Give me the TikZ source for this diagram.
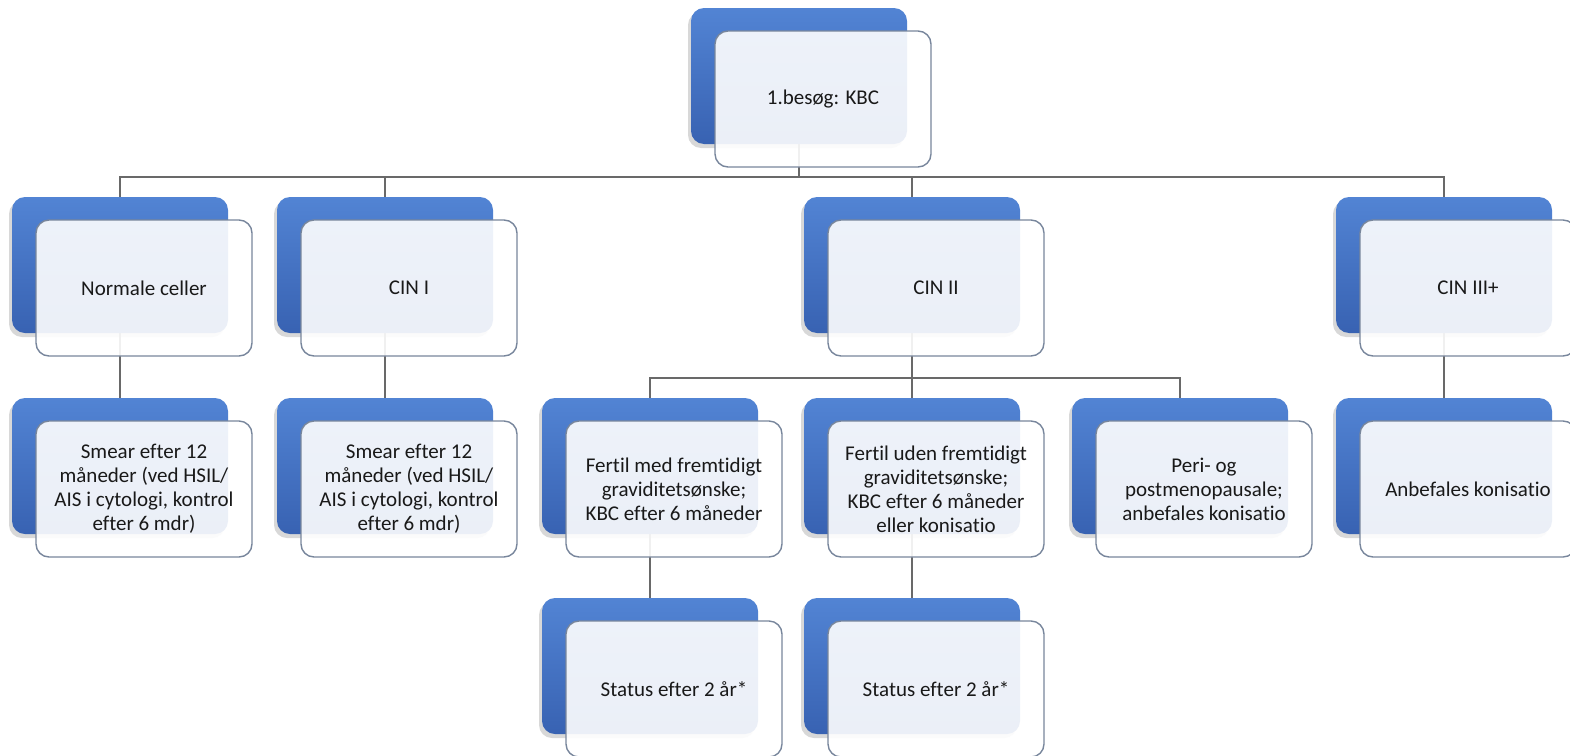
\documentclass[tikz,border=0pt]{standalone}
\usepackage{fontspec}
\setmainfont{Carlito}[Ligatures=NoCommon]
\usetikzlibrary{backgrounds,shadows}
\definecolor{cardtop}{RGB}{82,132,212}
\definecolor{cardbot}{RGB}{56,98,178}
\definecolor{cardrim}{RGB}{120,134,156}
\definecolor{linkgray}{RGB}{105,105,105}
\definecolor{txt}{RGB}{25,25,25}
\tikzset{
  back/.style={rectangle, rounded corners=13pt, minimum width=216pt, minimum height=136pt,
    top color=cardtop, bottom color=cardbot, draw=none,
    drop shadow={shadow xshift=-3pt, shadow yshift=-4pt, opacity=0.25, fill=black!60}},
  front/.style={rectangle, rounded corners=13pt, minimum width=216pt, minimum height=136pt,
    fill=white, fill opacity=0.9, text opacity=1, draw=cardrim, line width=1.4pt,
    align=center, text=txt, font=\fontsize{21}{24}\selectfont},
  link/.style={draw=linkgray, line width=1.3pt}
}
\begin{document}
\begin{tikzpicture}[x=1pt, y=-1pt]
  \useasboundingbox (0,0) rectangle (1570,755);

  \node[back] (visitb) at (799, 76) {};
  \node[front] (visit) at (823, 99) {1.besøg: KBC};

  \node[back] (normb) at (120, 265) {};
  \node[front] (norm) at (144, 288) {Normale celler};
  \node[back] (cinib) at (385, 265) {};
  \node[front] (cini) at (409, 288) {CIN I};
  \node[back] (ciniib) at (912, 265) {};
  \node[front] (cinii) at (936, 288) {CIN II};
  \node[back] (ciniiib) at (1444, 265) {};
  \node[front] (ciniii) at (1468, 288) {CIN III+};

  \node[back] (smearab) at (120, 466) {};
  \node[front] (smeara) at (144, 489) {Smear efter 12\\måneder (ved HSIL/\\AIS i cytologi, kontrol\\efter 6 mdr)};
  \node[back] (smearbb) at (385, 466) {};
  \node[front] (smearb) at (409, 489) {Smear efter 12\\måneder (ved HSIL/\\AIS i cytologi, kontrol\\efter 6 mdr)};
  \node[back] (medb) at (650, 466) {};
  \node[front] (med) at (674, 489) {Fertil med fremtidigt\\graviditetsønske;\\KBC efter 6 måneder};
  \node[back] (udenb) at (912, 466) {};
  \node[front] (uden) at (936, 489) {Fertil uden fremtidigt\\graviditetsønske;\\KBC efter 6 måneder\\eller konisatio};
  \node[back] (perib) at (1180, 466) {};
  \node[front] (peri) at (1204, 489) {Peri- og\\postmenopausale;\\anbefales konisatio};
  \node[back] (konib) at (1444, 466) {};
  \node[front] (koni) at (1468, 489) {Anbefales konisatio};

  \node[back] (statab) at (650, 666) {};
  \node[front] (stata) at (674, 689) {Status efter 2 år*};
  \node[back] (statbb) at (912, 666) {};
  \node[front] (statb) at (936, 689) {Status efter 2 år*};

  \coordinate (bar1) at (0, 177);
  \coordinate (bar2) at (0, 378);

  \begin{scope}[on background layer]
    \fill[white] (0,0) rectangle (1570,755);
    \draw[link] (visitb.south) -- (visitb.south |- bar1) -| (normb.north);
    \draw[link] (visitb.south |- bar1) -| (cinib.north);
    \draw[link] (visitb.south |- bar1) -| (ciniib.north);
    \draw[link] (visitb.south |- bar1) -| (ciniiib.north);
    \draw[link] (normb.south) -- (smearab.north);
    \draw[link] (cinib.south) -- (smearbb.north);
    \draw[link] (ciniib.south) -- (ciniib.south |- bar2) -| (medb.north);
    \draw[link] (ciniib.south |- bar2) -- (udenb.north);
    \draw[link] (ciniib.south |- bar2) -| (perib.north);
    \draw[link] (ciniiib.south) -- (konib.north);
    \draw[link] (medb.south) -- (statab.north);
    \draw[link] (udenb.south) -- (statbb.north);
  \end{scope}
\end{tikzpicture}
\end{document}
